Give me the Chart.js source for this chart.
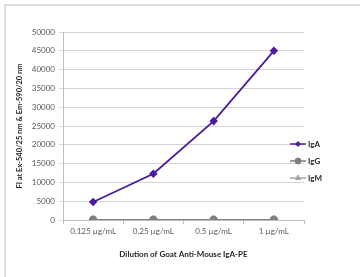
<!DOCTYPE html>
<html>
<head>
<meta charset="utf-8">
<script src="https://cdn.jsdelivr.net/npm/chart.js@4"></script>
<style>
  html, body { margin: 0; padding: 0; background: #fff; }
  #wrap { width: 360px; height: 277px; position: relative; }
</style>
</head>
<body>
<div id="wrap"><canvas id="c" width="360" height="277"></canvas></div>
<script>
const labels = ["0.125 µg/mL", "0.25 µg/mL", "0.5 µg/mL", "1 µg/mL"];
const igaValues = [4800, 12300, 26300, 45000];
const iggValues = [0, 0, 0, 0];
const igmValues = [0, 0, 0, 0];
const yTicks = [0, 5000, 10000, 15000, 20000, 25000, 30000, 35000, 40000, 45000, 50000];

const FONT = "Lato, 'Open Sans', sans-serif";
const tickColor = "#595959";

// frame round the picture, only the top and left edges are visible
const framePlugin = {
  id: "frame",
  beforeDraw(chart) {
    const ctx = chart.ctx;
    ctx.save();
    ctx.strokeStyle = "#dcdcdc";
    ctx.lineWidth = 2;
    ctx.strokeRect(5, 5, chart.width + 20, chart.height + 20);
    ctx.restore();
  }
};

// legend: line sample with marker, then bold label
const legendPlugin = {
  id: "sideLegend",
  afterDraw(chart) {
    const ctx = chart.ctx;
    const x0 = 290, y0 = 144, gap = 17;
    ctx.save();
    chart.data.datasets.forEach((ds, i) => {
      const y = y0 + i * gap;
      ctx.strokeStyle = ds.borderColor;
      ctx.lineWidth = 1.5;
      ctx.beginPath();
      ctx.moveTo(x0, y);
      ctx.lineTo(x0 + 16, y);
      ctx.stroke();
      ctx.fillStyle = ds.pointBackgroundColor;
      ctx.strokeStyle = ds.pointBorderColor;
      ctx.lineWidth = 1;
      Chart.helpers.drawPoint(ctx, {
        pointStyle: ds.pointStyle,
        radius: ds.pointRadius - 0.5,
        rotation: 0,
        borderWidth: 1
      }, x0 + 8, y);
      ctx.fillStyle = "#262626";
      ctx.font = "bold 8px " + FONT;
      ctx.textBaseline = "middle";
      ctx.fillText(ds.label, x0 + 18, y + 0.5);
    });
    ctx.restore();
  }
};

new Chart(document.getElementById("c"), {
  type: "line",
  data: {
    labels,
    datasets: [
      {
        label: "IgA",
        data: igaValues,
        borderColor: "#4c1aa0",
        backgroundColor: "#4c1aa0",
        pointBackgroundColor: "#4c1aa0",
        pointBorderColor: "#4c1aa0",
        pointStyle: "rectRot",
        pointRadius: 3,
        borderWidth: 1.8,
        tension: 0
      },
      {
        label: "IgG",
        data: iggValues,
        borderColor: "#7f7f7f",
        backgroundColor: "#7f7f7f",
        pointBackgroundColor: "#7f7f7f",
        pointBorderColor: "#7f7f7f",
        pointStyle: "circle",
        pointRadius: 3.5,
        borderWidth: 1.8,
        tension: 0
      },
      {
        label: "IgM",
        data: igmValues,
        borderColor: "#a6a6a6",
        backgroundColor: "#a6a6a6",
        pointBackgroundColor: "#a6a6a6",
        pointBorderColor: "#a6a6a6",
        pointStyle: "triangle",
        pointRadius: 3.5,
        borderWidth: 1.5,
        tension: 0
      }
    ]
  },
  options: {
    responsive: false,
    animation: false,
    events: [],
    layout: { padding: { left: 13, right: 56, top: 32, bottom: 18 } },
    plugins: {
      legend: { display: false },
      tooltip: { enabled: false }
    },
    scales: {
      x: {
        offset: true,
        grid: {
          offset: true,
          drawOnChartArea: false,
          tickLength: 4,
          color: "#bfbfbf"
        },
        border: { color: "#bfbfbf", width: 1 },
        ticks: {
          color: tickColor,
          font: { family: FONT, size: 8 },
          padding: 3,
          maxRotation: 0
        },
        title: {
          display: true,
          text: "Dilution of Goat Anti-Mouse IgA-PE",
          color: "#262626",
          font: { family: FONT, size: 8, weight: "bold" },
          padding: { top: 6, bottom: 0 }
        },
        afterFit(scale) { scale.height = 39; }
      },
      y: {
        min: 0,
        max: 50000,
        afterBuildTicks(scale) { scale.ticks = yTicks.map(v => ({ value: v })); },
        grid: {
          color: "#d4d4d4",
          tickLength: 4,
          lineWidth: 1
        },
        border: { color: "#bfbfbf", width: 1 },
        ticks: {
          color: tickColor,
          font: { family: FONT, size: 8 },
          padding: 4,
          callback: v => String(v)
        },
        title: {
          display: true,
          text: "FI at Ex-540/25 nm & Em-590/20 nm",
          color: "#262626",
          font: { family: FONT, size: 7.5, weight: "bold" },
          padding: { top: 2, bottom: 6 }
        },
        afterFit(scale) { scale.width = 50; }
      }
    }
  },
  plugins: [framePlugin, legendPlugin]
});
</script>
</body>
</html>
